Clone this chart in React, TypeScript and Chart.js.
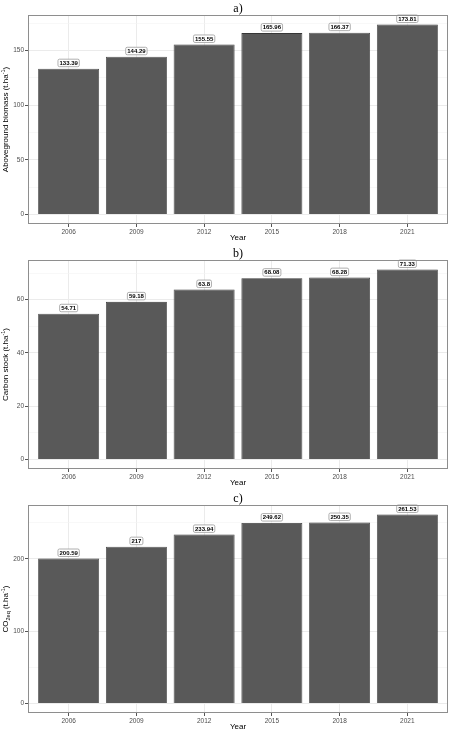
import React, { useEffect, useRef } from 'react';
import { Chart, registerables } from 'chart.js';

Chart.register(...registerables);

// ---- data -------------------------------------------------------------
const years = ['2006', '2009', '2012', '2015', '2018', '2021'];
const biomass = [133.39, 144.29, 155.55, 165.96, 166.37, 173.81];
const carbonStock = [54.71, 59.18, 63.8, 68.08, 68.28, 71.33];
const co2eq = [200.59, 217, 233.94, 249.62, 250.35, 261.53];

const biomassTicks = [0, 50, 100, 150];
const carbonTicks = [0, 20, 40, 60];
const co2Ticks = [0, 100, 200];

const panelTags = ['a)', 'b)', 'c)'];
const xTitle = 'Year';

type Seg = { text: string; shift?: 'sup' | 'sub' };

const biomassTitle: Seg[] = [
  { text: 'Aboveground biomass (t.ha' },
  { text: '-1', shift: 'sup' },
  { text: ')' },
];
const carbonTitle: Seg[] = [
  { text: 'Carbon stock (t.ha' },
  { text: '-1', shift: 'sup' },
  { text: ')' },
];
const co2Title: Seg[] = [
  { text: 'CO' },
  { text: '2eq', shift: 'sub' },
  { text: ' (t.ha' },
  { text: '-1', shift: 'sup' },
  { text: ')' },
];

// ---- style ------------------------------------------------------------
const SANS = '"Liberation Sans", Arial, Helvetica, sans-serif';
const SERIF = '"Liberation Serif", "Times New Roman", serif';
const BAR_FILL = '#595959';
const BAR_EDGE = '#363636';
const GRID_MAJOR = '#ebebeb';
const GRID_MINOR = '#f3f3f3';
const FRAME = '#8e8e8e';

type PanelProps = {
  tag: string;
  values: number[];
  majorTicks: number[];
  yTitle: Seg[];
  height: number;
};

function Panel({ tag, values, majorTicks, yTitle, height }: PanelProps) {
  const ref = useRef<HTMLCanvasElement>(null);

  useEffect(() => {
    if (!ref.current) return;
    const maxV = Math.max(...values);
    const yMin = -0.05 * maxV;
    const yMax = 1.05 * maxV;
    const step = majorTicks[1] - majorTicks[0];
    const majorSet = new Set(majorTicks);
    const minorTicks = majorTicks.map((v) => v + step / 2).filter((v) => v < yMax);
    const allTicks = [...majorTicks, ...minorTicks].sort((a, b) => a - b);

    // value labels sitting on top of each bar
    const barLabels = {
      id: 'barLabels',
      afterDatasetsDraw(chart: any) {
        const ctx = chart.ctx;
        const meta = chart.getDatasetMeta(0);
        ctx.save();
        ctx.font = `bold 6px ${SANS}`;
        ctx.textAlign = 'center';
        ctx.textBaseline = 'middle';
        meta.data.forEach((bar: any, i: number) => {
          const text = String(values[i]);
          const w = ctx.measureText(text).width + 3;
          const h = 7.5;
          const x = bar.x - w / 2;
          const y = bar.y - 2 - h;
          ctx.beginPath();
          ctx.roundRect(x, y, w, h, 1.5);
          ctx.fillStyle = '#ffffff';
          ctx.fill();
          ctx.lineWidth = 0.8;
          ctx.strokeStyle = '#9a9a9a';
          ctx.stroke();
          ctx.fillStyle = '#000000';
          ctx.fillText(text, bar.x, y + h / 2 + 0.3);
        });
        ctx.restore();
      },
    };

    // panel frame, panel tag and axis titles
    const decorations = {
      id: 'decorations',
      afterDraw(chart: any) {
        const ctx = chart.ctx;
        const a = chart.chartArea;
        ctx.save();
        ctx.strokeStyle = FRAME;
        ctx.lineWidth = 1;
        ctx.strokeRect(
          Math.round(a.left) + 0.5,
          Math.round(a.top) + 0.5,
          Math.round(a.right - a.left) - 1,
          Math.round(a.bottom - a.top) - 1
        );

        const cx = (a.left + a.right) / 2;
        ctx.fillStyle = '#000000';
        ctx.textAlign = 'center';
        ctx.textBaseline = 'middle';
        ctx.font = `12px ${SERIF}`;
        ctx.fillText(tag, cx, 8.5);

        ctx.font = `8px ${SANS}`;
        ctx.fillText(xTitle, cx, a.bottom + 14);

        // rotated y title with super/subscripts
        const main = 8;
        const small = 5.5;
        const widths = yTitle.map((s) => {
          ctx.font = `${s.shift ? small : main}px ${SANS}`;
          return ctx.measureText(s.text).width;
        });
        const total = widths.reduce((p, c) => p + c, 0);
        ctx.translate(6, (a.top + a.bottom) / 2);
        ctx.rotate(-Math.PI / 2);
        ctx.textAlign = 'left';
        let pos = -total / 2;
        yTitle.forEach((s, i) => {
          ctx.font = `${s.shift ? small : main}px ${SANS}`;
          const dy = s.shift === 'sup' ? -3 : s.shift === 'sub' ? 2.5 : 0;
          ctx.fillText(s.text, pos, dy);
          pos += widths[i];
        });
        ctx.restore();
      },
    };

    const chart = new Chart(ref.current, {
      type: 'bar',
      data: {
        datasets: [
          {
            data: values.map((v, i) => ({ x: i + 1, y: v })),
            backgroundColor: BAR_FILL,
            borderColor: BAR_EDGE,
            borderWidth: 0.8,
            barPercentage: 0.9,
            categoryPercentage: 1,
          },
        ],
      },
      options: {
        animation: false,
        responsive: false,
        maintainAspectRatio: false,
        devicePixelRatio: 1,
        layout: { padding: { top: 15, right: 2, left: 0, bottom: 0 } },
        plugins: { legend: { display: false }, tooltip: { enabled: false } },
        scales: {
          x: {
            type: 'linear',
            min: 0.4,
            max: 6.6,
            offset: false,
            bounds: 'data',
            border: { display: false },
            grid: {
              offset: false,
              color: GRID_MAJOR,
              lineWidth: 1,
              tickColor: '#555555',
              tickLength: 3,
            },
            ticks: {
              color: '#4d4d4d',
              font: { family: SANS, size: 6.5 },
              padding: 1,
              autoSkip: false,
              maxRotation: 0,
              callback: (v: any) => years[Math.round(Number(v)) - 1] ?? '',
            },
            afterBuildTicks: (s: any) => {
              s.ticks = years.map((_, i) => ({ value: i + 1 }));
            },
            afterFit: (s: any) => {
              s.height = 21;
            },
          },
          y: {
            type: 'linear',
            min: yMin,
            max: yMax,
            bounds: 'data',
            border: { display: false },
            grid: {
              color: (c: any) => (majorSet.has(c.tick?.value) ? GRID_MAJOR : GRID_MINOR),
              lineWidth: (c: any) => (majorSet.has(c.tick?.value) ? 1 : 0.6),
              tickColor: (c: any) => (majorSet.has(c.tick?.value) ? '#555555' : 'rgba(0,0,0,0)'),
              tickLength: 3,
            },
            ticks: {
              color: '#4d4d4d',
              font: { family: SANS, size: 6.5 },
              padding: 1,
              autoSkip: false,
              callback: (v: any) => (majorSet.has(Number(v)) ? String(v) : ''),
            },
            afterBuildTicks: (s: any) => {
              s.ticks = allTicks.map((v) => ({ value: v }));
            },
            afterFit: (s: any) => {
              s.width = 28;
            },
          },
        },
      },
      plugins: [barLabels, decorations],
    } as any);

    return () => chart.destroy();
  }, [tag, values, majorTicks, yTitle]);

  return <canvas ref={ref} width={450} height={height} style={{ display: 'block' }} />;
}

export default function App() {
  return (
    <div style={{ position: 'absolute', left: 0, top: 0, width: 450, height: 734, background: '#ffffff' }}>
      <Panel tag={panelTags[0]} values={biomass} majorTicks={biomassTicks} yTitle={biomassTitle} height={245} />
      <Panel tag={panelTags[1]} values={carbonStock} majorTicks={carbonTicks} yTitle={carbonTitle} height={245} />
      <Panel tag={panelTags[2]} values={co2eq} majorTicks={co2Ticks} yTitle={co2Title} height={244} />
    </div>
  );
}
